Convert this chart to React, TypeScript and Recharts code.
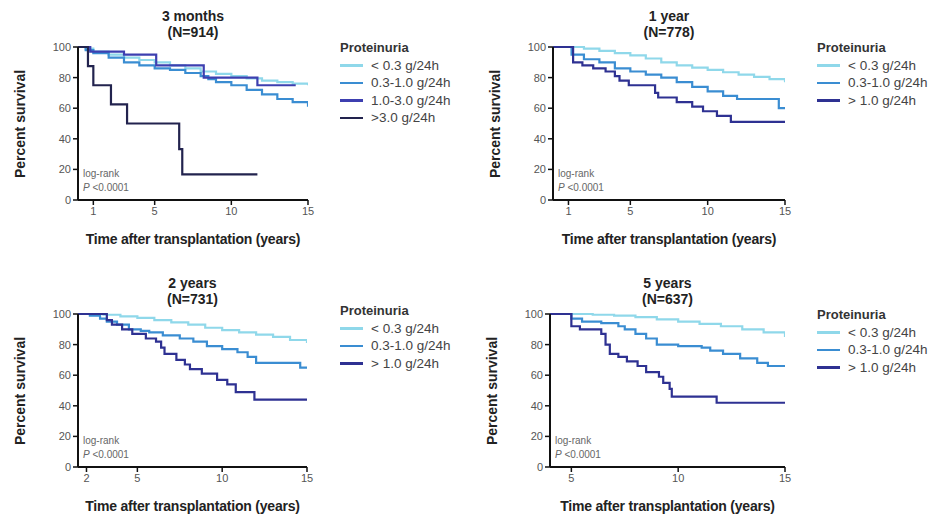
import { Line, LineChart, XAxis, YAxis } from 'recharts';

type Pt = [number, number];

// Kaplan-Meier estimates: [years after transplantation, % survival]
const m3Low: Pt[] = [[0, 100], [0.5, 99], [1, 97], [2, 95], [3, 93], [4, 91.5], [5, 90], [6, 88], [7, 86], [8, 84], [9, 82.5], [10, 81], [11, 79.5], [12, 78], [13, 77], [14, 76], [15, 75]];
const m3Mid: Pt[] = [[0, 100], [0.5, 98], [1, 96], [2, 93], [3, 90], [4, 88], [5, 86], [6, 85], [7, 83], [8, 81], [8.5, 79], [9, 77], [10, 75], [11, 72], [12, 69], [13, 66], [14, 64], [15, 61]];
const m3High: Pt[] = [[0, 100], [0.8, 97], [3, 95], [5.1, 88], [8.2, 80], [11.7, 75], [14.2, 75]];
const m3VeryHigh: Pt[] = [[0, 100], [0.65, 87.5], [1, 75], [2.15, 62.5], [3.2, 50], [6.6, 33.3], [6.8, 16.7], [11.7, 16.7]];

const y1Low: Pt[] = [[0, 100], [1, 100], [2, 99], [3, 97.5], [4, 96], [5, 94.5], [6, 92.5], [7, 90], [8, 88], [9, 86.5], [10, 85], [11, 83.5], [12, 82], [13, 80.5], [14, 79], [15, 77]];
const y1Mid: Pt[] = [[0, 100], [1.2, 95], [2, 92], [3, 90], [4, 86], [5, 84], [6, 82], [7, 80], [8, 77], [9, 74], [10, 71], [11, 68], [11.9, 66], [14.6, 60], [15, 60]];
const y1High: Pt[] = [[0, 100], [1.3, 90], [1.9, 88], [2.6, 86], [3.4, 84], [4, 81], [4.3, 78], [4.9, 75], [6.6, 70], [6.8, 67], [8, 64], [9, 61], [9.7, 58], [10.6, 55], [11.5, 51], [15, 51]];

const y2Low: Pt[] = [[1.5, 100], [2.5, 100], [3, 99.5], [4, 98.5], [5, 97.5], [6, 96], [7, 94.5], [8, 93], [9, 91], [10, 89.5], [11, 88], [12, 86.5], [13, 85], [14, 83], [15, 81]];
const y2Mid: Pt[] = [[1.5, 100], [2.2, 99], [2.8, 97], [3.2, 95], [3.8, 93], [4.5, 90], [5.2, 89], [5.7, 88], [6.5, 86], [7.5, 84], [8.3, 82], [9.1, 79], [10, 77], [10.9, 75], [11.5, 72], [12, 68], [14.6, 65], [15, 65]];
const y2High: Pt[] = [[1.5, 100], [3.2, 96], [3.5, 93], [4.1, 90], [4.7, 87], [5.5, 84], [6.1, 82], [6.4, 78], [6.6, 74], [7.3, 70], [7.8, 67], [8.1, 64], [8.8, 61], [9.7, 57], [10.3, 54], [10.8, 49], [11.9, 44], [15, 44]];

const y5Low: Pt[] = [[4, 100], [5, 100], [6, 99.5], [7, 99], [8, 98], [9, 96.5], [10, 95], [11, 93.5], [12, 92], [13, 90], [14, 88], [15, 85]];
const y5Mid: Pt[] = [[4, 100], [5, 97], [5.5, 95], [6.4, 94], [7.2, 92], [7.5, 90], [8, 87], [8.5, 84], [9, 80], [10, 79], [11.1, 78], [11.5, 76], [12.1, 74], [12.9, 71], [13.7, 68], [14.2, 66], [15, 66]];
const y5High: Pt[] = [[4, 100], [5, 92], [5.4, 90], [6.4, 87], [6.6, 80], [6.8, 74], [7.2, 72], [7.6, 69], [8.1, 66], [8.5, 62], [9.1, 59], [9.3, 55], [9.6, 51], [9.7, 46], [11.8, 42], [15, 42]];

const yTicks = [0, 20, 40, 60, 80, 100];
const ticks3m = [1, 5, 10, 15];
const ticks1y = [1, 5, 10, 15];
const ticks2y = [2, 5, 10, 15];
const ticks5y = [5, 10, 15];

const C_LOW = '#8fd8ea';
const C_MID = '#3a8dd2';
const C_HIGH = '#3d3fb0';
const C_VHIGH = '#22234e';
const C_GT1 = '#2e3192';

const FONT = '"Liberation Sans", Arial, Helvetica, sans-serif';

interface Series {
  name: string;
  color: string;
  pts: Pt[];
}

interface PanelProps {
  title: string;
  n: string;
  x: number; // plot left
  y: number; // plot top
  w: number;
  h: number;
  domain: [number, number];
  ticks: number[];
  series: Series[];
  legendX: number;
  legendY: number;
}

function Panel({ title, n, x, y, w, h, domain, ticks, series, legendX, legendY }: PanelProps) {
  const padL = 60;
  const padT = 8;
  const padR = 12;
  const axisH = 30;
  const cx = x + w / 2;
  return (
    <>
      <div style={{ position: 'absolute', left: cx - 100, width: 200, top: y - 39, textAlign: 'center', fontWeight: 700, fontSize: 14, lineHeight: '16px', color: '#222' }}>
        {title}
        <br />
        {n}
      </div>
      <div style={{ position: 'absolute', left: x - padL, top: y - padT }}>
        <LineChart width={w + padL + padR} height={h + padT + axisH} margin={{ top: padT, right: padR, left: 0, bottom: 0 }}>
          <XAxis
            type="number"
            dataKey="t"
            domain={domain}
            ticks={ticks}
            allowDataOverflow
            height={axisH}
            tickSize={5}
            axisLine={{ stroke: '#111', strokeWidth: 2 }}
            tickLine={{ stroke: '#111', strokeWidth: 1.5 }}
            tick={{ fontSize: 11, fill: '#555', fontFamily: FONT }}
          />
          <YAxis
            type="number"
            domain={[0, 100]}
            ticks={yTicks}
            width={padL}
            tickSize={5}
            axisLine={{ stroke: '#111', strokeWidth: 2 }}
            tickLine={{ stroke: '#111', strokeWidth: 1.5 }}
            tick={{ fontSize: 11, fill: '#555', fontFamily: FONT }}
          />
          {series.map((s) => (
            <Line
              key={s.name}
              data={s.pts.map(([t, v]) => ({ t, s: v }))}
              dataKey="s"
              type="stepAfter"
              stroke={s.color}
              strokeWidth={2.2}
              dot={false}
              activeDot={false}
              isAnimationActive={false}
            />
          ))}
        </LineChart>
      </div>
      <div style={{ position: 'absolute', left: x - 58 - 70, top: y + h / 2 - 9, width: 140, textAlign: 'center', transform: 'rotate(-90deg)', fontWeight: 700, fontSize: 14, lineHeight: '18px', color: '#222' }}>
        Percent survival
      </div>
      <div style={{ position: 'absolute', left: cx - 150, width: 300, top: y + h + 31, textAlign: 'center', fontWeight: 700, fontSize: 14, lineHeight: '16px', color: '#222', letterSpacing: -0.2 }}>
        Time after transplantation (years)
      </div>
      <div style={{ position: 'absolute', left: x + 5, top: y + h - 33, fontSize: 10, lineHeight: '14px', color: '#666' }}>
        log-rank
        <br />
        <i>P</i> &lt;0.0001
      </div>
      <div style={{ position: 'absolute', left: legendX, top: legendY - 8, fontSize: 13.5, lineHeight: '17.5px', color: '#444' }}>
        <div style={{ fontWeight: 700, color: '#333', fontSize: 13 }}>Proteinuria</div>
        {series.map((s) => (
          <div key={s.name} style={{ display: 'flex', alignItems: 'center', whiteSpace: 'nowrap' }}>
            <span style={{ display: 'inline-block', width: 23, height: 2.5, background: s.color, marginRight: 8 }} />
            {s.name}
          </div>
        ))}
      </div>
    </>
  );
}

export default function App() {
  return (
    <div style={{ position: 'absolute', left: 0, top: 0, width: 930, height: 514, background: '#fff', fontFamily: FONT, overflow: 'hidden' }}>
      <Panel
        title="3 months"
        n="(N=914)"
        x={78}
        y={47}
        w={230}
        h={153}
        domain={[0, 15]}
        ticks={ticks3m}
        legendX={340}
        legendY={47}
        series={[
          { name: '< 0.3 g/24h', color: C_LOW, pts: m3Low },
          { name: '0.3-1.0 g/24h', color: C_MID, pts: m3Mid },
          { name: '1.0-3.0 g/24h', color: C_HIGH, pts: m3High },
          { name: '>3.0 g/24h', color: C_VHIGH, pts: m3VeryHigh },
        ]}
      />
      <Panel
        title="1 year"
        n="(N=778)"
        x={553}
        y={47}
        w={232}
        h={153}
        domain={[0, 15]}
        ticks={ticks1y}
        legendX={817}
        legendY={47}
        series={[
          { name: '< 0.3 g/24h', color: C_LOW, pts: y1Low },
          { name: '0.3-1.0 g/24h', color: C_MID, pts: y1Mid },
          { name: '> 1.0 g/24h', color: C_GT1, pts: y1High },
        ]}
      />
      <Panel
        title="2 years"
        n="(N=731)"
        x={78}
        y={314}
        w={229}
        h={153}
        domain={[1.5, 15]}
        ticks={ticks2y}
        legendX={340}
        legendY={310}
        series={[
          { name: '< 0.3 g/24h', color: C_LOW, pts: y2Low },
          { name: '0.3-1.0 g/24h', color: C_MID, pts: y2Mid },
          { name: '> 1.0 g/24h', color: C_GT1, pts: y2High },
        ]}
      />
      <Panel
        title="5 years"
        n="(N=637)"
        x={550}
        y={314}
        w={235}
        h={153}
        domain={[4, 15]}
        ticks={ticks5y}
        legendX={817}
        legendY={314}
        series={[
          { name: '< 0.3 g/24h', color: C_LOW, pts: y5Low },
          { name: '0.3-1.0 g/24h', color: C_MID, pts: y5Mid },
          { name: '> 1.0 g/24h', color: C_GT1, pts: y5High },
        ]}
      />
    </div>
  );
}
